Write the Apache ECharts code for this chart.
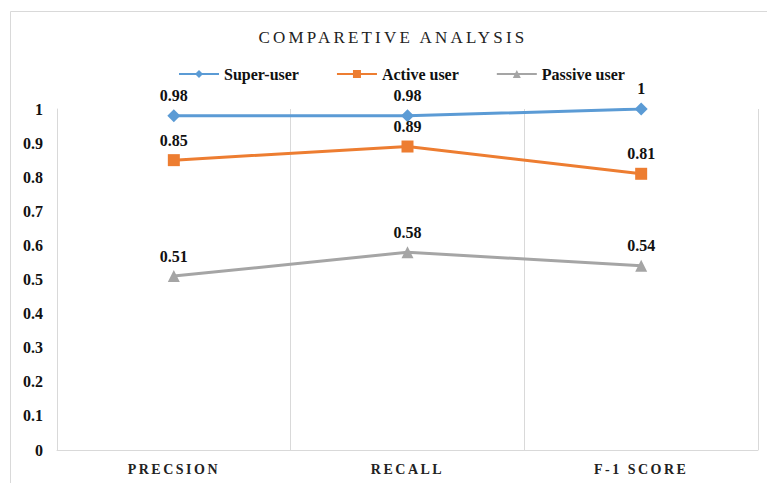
<!DOCTYPE html>
<html>
<head>
<meta charset="utf-8">
<script src="https://cdn.jsdelivr.net/npm/echarts@6/dist/echarts.min.js"></script>
<style>
html,body{margin:0;padding:0;background:#fff;}
#chart{width:767px;height:483px;}
</style>
</head>
<body>
<div id="chart"></div>
<script>
const titleText = 'COMPARETIVE ANALYSIS';
const categories = ['PRECSION', 'RECALL', 'F-1 SCORE'];
const superUser = [0.98, 0.98, 1];
const activeUser = [0.85, 0.89, 0.81];
const passiveUser = [0.51, 0.58, 0.54];
const yTicks = { min: 0, max: 1, interval: 0.1 };

const FONT = 'Liberation Serif, Times New Roman, serif';
const chart = echarts.init(document.getElementById('chart'), null, { renderer: 'svg' });

function lineSeries(name, data, color, symbol, size) {
  return {
    name: name,
    type: 'line',
    data: data,
    symbol: symbol,
    symbolSize: size,
    lineStyle: { color: color, width: 3 },
    itemStyle: { color: color },
    label: {
      show: true,
      position: 'top',
      distance: 6,
      color: '#111',
      fontFamily: FONT,
      fontWeight: 'bold',
      fontSize: 16
    },
    emphasis: { disabled: true },
    animation: false
  };
}

chart.setOption({
  animation: false,
  graphic: [
    {
      type: 'rect',
      silent: true,
      z: -10,
      shape: { x: 10.5, y: 11.5, width: 800, height: 520 },
      style: { fill: 'none', stroke: '#D9D9D9', lineWidth: 1 }
    },
    {
      type: 'text',
      silent: true,
      x: 393,
      y: 37,
      style: {
        text: titleText,
        fill: '#222',
        font: '17px ' + FONT,
        textAlign: 'center',
        textVerticalAlign: 'middle'
      }
    }
  ],
  legend: {
    left: 173,
    top: 61,
    itemWidth: 40,
    itemHeight: 10,
    itemGap: 37,
    textStyle: { fontFamily: FONT, fontWeight: 'bold', fontSize: 16, color: '#111' },
    data: ['Super-user', 'Active user', 'Passive user']
  },
  grid: { left: 57, right: 9, top: 109, bottom: 33, containLabel: false },
  xAxis: {
    type: 'category',
    data: categories,
    boundaryGap: true,
    axisLine: { lineStyle: { color: '#D9D9D9', width: 1 } },
    axisTick: { show: false },
    splitLine: { show: true, lineStyle: { color: '#D9D9D9', width: 1 } },
    axisLabel: { margin: 12, fontFamily: FONT, fontWeight: 'bold', fontSize: 14, color: '#222' }
  },
  yAxis: {
    type: 'value',
    min: yTicks.min,
    max: yTicks.max,
    interval: yTicks.interval,
    axisLine: { show: true, lineStyle: { color: '#D9D9D9', width: 1 } },
    axisTick: { show: false },
    splitLine: { show: false },
    axisLabel: { margin: 14, fontFamily: FONT, fontWeight: 'bold', fontSize: 16, color: '#111' }
  },
  series: [
    lineSeries('Super-user', superUser, '#5B9BD5', 'diamond', 13),
    lineSeries('Active user', activeUser, '#ED7D31', 'rect', 12),
    lineSeries('Passive user', passiveUser, '#A5A5A5', 'triangle', 12)
  ]
});

function applySpacing() {
  const texts = document.querySelectorAll('#chart text');
  texts.forEach(function (t) {
    const s = t.textContent;
    if (s === titleText) t.style.letterSpacing = '3.2px';
    else if (categories.indexOf(s) >= 0) t.style.letterSpacing = '2.5px';
  });
}
chart.on('finished', applySpacing);
applySpacing();
</script>
</body>
</html>
